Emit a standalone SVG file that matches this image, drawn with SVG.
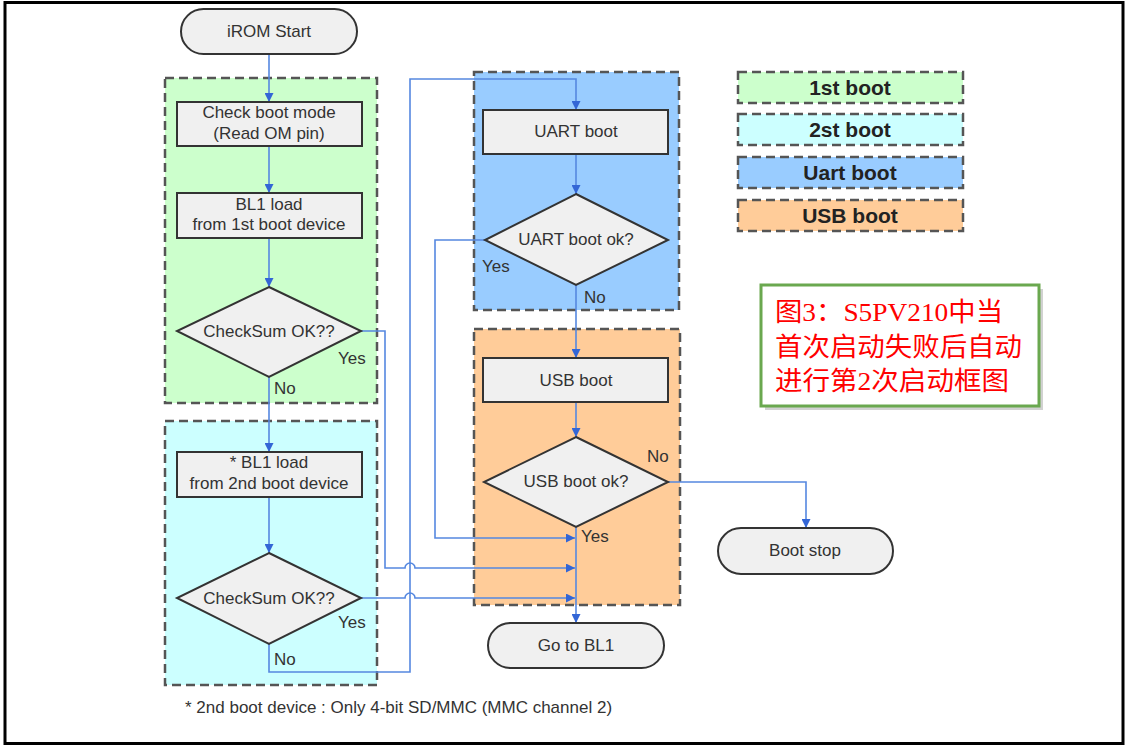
<svg xmlns="http://www.w3.org/2000/svg" width="1129" height="748" viewBox="0 0 1129 748">
<defs>
<marker id="arr" viewBox="0 0 10 10" refX="10" refY="5" markerWidth="9" markerHeight="9" markerUnits="userSpaceOnUse" orient="auto">
<path d="M0,0 L10,5 L0,10 z" fill="#3366d6"/>
</marker>
<style>
.grp{stroke:#555;stroke-width:2.5;stroke-dasharray:9,5}
.box{fill:#f0f0f0;stroke:#333;stroke-width:2}
.t{font-family:"Liberation Sans",Arial,sans-serif;font-size:17px;fill:#333;text-anchor:middle}
.lbl{font-family:"Liberation Sans",Arial,sans-serif;font-size:17px;fill:#333}
.lg{font-family:"Liberation Sans",Arial,sans-serif;font-size:21px;font-weight:bold;fill:#222;text-anchor:middle}
.c{fill:none;stroke:#5588e0;stroke-width:1.6}
.ca{fill:none;stroke:#5588e0;stroke-width:1.6;marker-end:url(#arr)}
.cn{font-family:"Liberation Serif","Noto Sans CJK SC",serif;font-size:26px;fill:#ff0000}
</style>
</defs>
<rect x="0" y="0" width="1129" height="748" fill="#fff"/>
<rect x="5" y="2.5" width="1118" height="741" fill="none" stroke="#000" stroke-width="3"/>

<g id="groups">
<rect id="grp-1st" class="grp" x="165" y="78" width="212" height="325" fill="#ccffcc"/>
<rect id="grp-2nd" class="grp" x="165" y="421" width="212" height="264" fill="#ccffff"/>
<rect id="grp-uart" class="grp" x="474" y="72" width="205" height="238" fill="#99ccff"/>
<rect id="grp-usb" class="grp" x="474" y="329" width="206" height="276" fill="#ffcc99"/>
</g>

<g id="legend">
<g id="lg-1st"><rect class="grp" x="738" y="72" width="225" height="31" fill="#ccffcc"/><text class="lg" x="850" y="95">1st boot</text></g>
<g id="lg-2st"><rect class="grp" x="738" y="114" width="225" height="31" fill="#ccffff"/><text class="lg" x="850" y="137">2st boot</text></g>
<g id="lg-uart"><rect class="grp" x="738" y="157" width="225" height="31" fill="#99ccff"/><text class="lg" x="850" y="180">Uart boot</text></g>
<g id="lg-usb"><rect class="grp" x="738" y="200" width="225" height="31" fill="#ffcc99"/><text class="lg" x="850" y="223">USB boot</text></g>
</g>

<g id="connectors">
<path class="ca" d="M269,54 V102"/>
<path class="ca" d="M269,146 V193"/>
<path class="ca" d="M269,238 V287"/>
<path class="ca" d="M269,377 V452"/>
<path class="ca" d="M269,497 V553"/>
<path class="ca" d="M269,644 V672 H410 V79 H576 V110"/>
<path class="ca" d="M576,154 V194"/>
<path class="ca" d="M576,285 V358"/>
<path class="ca" d="M576,402 V437"/>
<path class="ca" d="M668,482 H806 V528"/>
<path class="ca" d="M576,527 V623"/>
<path class="ca" d="M485,240 H435 V538 H575"/>
<path class="ca" d="M361,331 H385 V568 H405 A5,5 0 0 1 415,568 H575"/>
<path class="ca" d="M361,598 H405 A5,5 0 0 1 415,598 H575"/>
</g>

<g id="n-irom"><rect class="box" x="181" y="9" width="176" height="45" rx="22.5"/><text class="t" x="269" y="37">iROM Start</text></g>
<g id="n-check"><rect class="box" x="177" y="102" width="185" height="44"/><text class="t" x="269" y="118">Check boot mode</text><text class="t" x="269" y="139">(Read OM pin)</text></g>
<g id="n-bl1-1"><rect class="box" x="177" y="193" width="185" height="45"/><text class="t" x="269" y="210">BL1 load</text><text class="t" x="269" y="230">from 1st boot device</text></g>
<g id="n-cs1"><polygon class="box" points="269,287 361,331 269,377 177,331"/><text class="t" x="269" y="337">CheckSum OK??</text></g>
<g id="n-bl1-2"><rect class="box" x="177" y="452" width="185" height="45"/><text class="t" x="269" y="468">* BL1 load</text><text class="t" x="269" y="489">from 2nd boot device</text></g>
<g id="n-cs2"><polygon class="box" points="269,553 361,598 269,644 177,598"/><text class="t" x="269" y="604">CheckSum OK??</text></g>
<g id="n-uart"><rect class="box" x="483" y="110" width="185" height="44"/><text class="t" x="576" y="137">UART boot</text></g>
<g id="n-uartok"><polygon class="box" points="576,194 668,240 576,285 485,240"/><text class="t" x="576" y="245">UART boot ok?</text></g>
<g id="n-usb"><rect class="box" x="483" y="358" width="185" height="44"/><text class="t" x="576" y="386">USB boot</text></g>
<g id="n-usbok"><polygon class="box" points="576,437 668,482 576,527 484,482"/><text class="t" x="576" y="487">USB boot ok?</text></g>
<g id="n-stop"><rect class="box" x="718" y="528" width="175" height="46" rx="23"/><text class="t" x="805" y="556">Boot stop</text></g>
<g id="n-gobl1"><rect class="box" x="488" y="623" width="176" height="45" rx="22.5"/><text class="t" x="576" y="651">Go to BL1</text></g>

<g id="labels">
<text class="lbl" x="338" y="364">Yes</text>
<text class="lbl" x="274" y="394">No</text>
<text class="lbl" x="338" y="628">Yes</text>
<text class="lbl" x="274" y="665">No</text>
<text class="lbl" x="482" y="272">Yes</text>
<text class="lbl" x="584" y="303">No</text>
<text class="lbl" x="647" y="462">No</text>
<text class="lbl" x="581" y="542">Yes</text>
</g>

<text id="footnote" class="lbl" x="185" y="713">* 2nd boot device : Only 4-bit SD/MMC (MMC channel 2)</text>

<g id="caption">
<rect x="765" y="289" width="278" height="121" fill="#999" opacity="0.45"/>
<rect x="761" y="285" width="278" height="121" fill="#fff" stroke="#6aa84f" stroke-width="3"/>
<text class="cn" x="775" y="321" textLength="228" lengthAdjust="spacingAndGlyphs">图3：S5PV210中当</text>
<text class="cn" x="775" y="356" textLength="247" lengthAdjust="spacingAndGlyphs">首次启动失败后自动</text>
<text class="cn" x="775" y="390" textLength="234" lengthAdjust="spacingAndGlyphs">进行第2次启动框图</text>
</g>
</svg>
